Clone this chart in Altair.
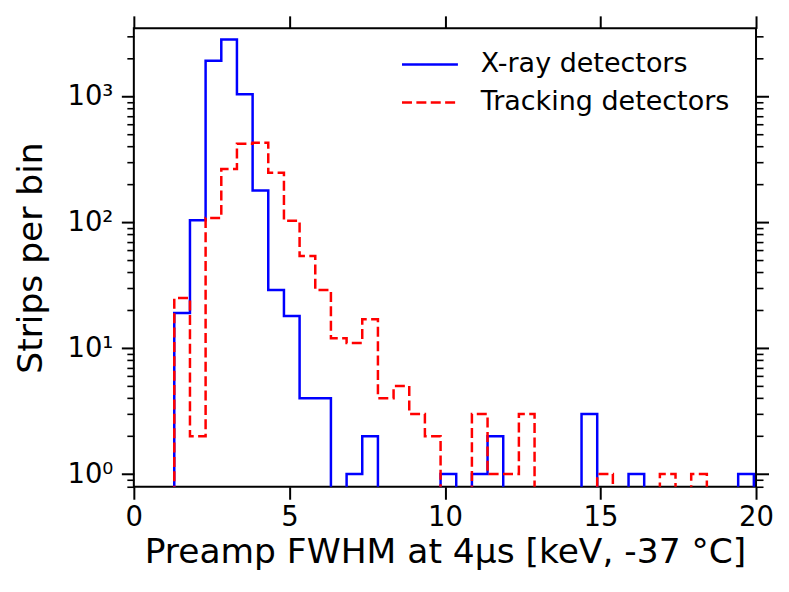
import altair as alt
import pandas as pd

# ---- data ----
bin_edges = [1.300, 1.804, 2.307, 2.811, 3.314, 3.818, 4.321, 4.825, 5.328, 5.832,
             6.335, 6.839, 7.342, 7.846, 8.349, 8.853, 9.356, 9.860, 10.363, 10.867,
             11.370, 11.874, 12.377, 12.881, 13.384, 13.888, 14.391, 14.895, 15.398, 15.902,
             16.405, 16.909, 17.412, 17.916, 18.419, 18.923, 19.426, 19.930]
xray_counts = [19, 104, 1920, 2830, 1040, 179, 29, 18, 4, 4,
               0, 1, 2, 0, 0, 0, 0, 1, 0, 1,
               2, 0, 0, 0, 0, 0, 3, 0, 0, 1,
               0, 0, 0, 0, 0, 0, 1]
tracking_counts = [25, 2, 108, 265, 421, 428, 248, 103, 54, 29,
                   12, 11, 17, 4, 5, 3, 2, 0, 0, 3,
                   1, 1, 3, 0, 0, 0, 0, 1, 0, 0,
                   0, 1, 0, 1, 0, 0, 0]
series_names = ["X-ray detectors", "Tracking detectors"]
series_colors = ["#0000ff", "#ff0000"]
series_dashes = [[1, 0], [10, 4.4]]

x_ticks = [0, 5, 10, 15, 20]
y_ticks = [1, 10, 100, 1000]
y_tick_labels = ["10⁰", "10¹", "10²", "10³"]
y_minor_ticks = [0.8, 0.9, 2, 3, 4, 5, 6, 7, 8, 9, 20, 30, 40, 50, 60, 70, 80, 90,
                 200, 300, 400, 500, 600, 700, 800, 900, 2000, 3000]


def steps(name, counts):
    rows = [{"x": bin_edges[0], "count": 0, "series": name, "order": 0}]
    for i, c in enumerate(counts):
        rows.append({"x": bin_edges[i], "count": c, "series": name, "order": i + 1})
    rows.append({"x": bin_edges[-1], "count": 0, "series": name, "order": len(counts) + 1})
    return rows


xray_df = pd.DataFrame(steps(series_names[0], xray_counts))
track_df = pd.DataFrame(steps(series_names[1], tracking_counts))
minor_df = pd.DataFrame({"v": y_minor_ticks})
major_df = pd.DataFrame({"x": x_ticks, "v": [1, 10, 100, 1000, 1000]})

FONT = "DejaVu Sans"
LW = 2.5
x_scale = alt.Scale(domain=[0, 20], nice=False, zero=False)
y_scale = alt.Scale(type="log", domain=[0.793, 3475], nice=False)

label_expr = " : ".join(f"datum.value == {v} ? '{l}'" for v, l in zip(y_ticks, y_tick_labels)) + " : ''"

legend = alt.Legend(
    title=None, orient="none", legendX=281, legendY=20.7, padding=0,
    symbolType="M-2,0L2,0", symbolSize=784, symbolStrokeWidth=LW,
    labelFontSize=27, labelFont=FONT, labelColor="black", labelOffset=35.3,
    rowPadding=9, labelLimit=400,
)
color_enc = alt.Color("series:N", scale=alt.Scale(domain=series_names, range=series_colors), legend=legend)
dash_enc = alt.StrokeDash("series:N", scale=alt.Scale(domain=series_names, range=series_dashes), legend=legend)

x_axis = alt.Axis(
    values=x_ticks, title="Preamp FWHM at 4μs [keV, -37 °C]", titleFontSize=34.5,
    titleFontWeight="normal", titleBaseline="alphabetic", titleY=75.6,
    labelFontSize=27.5, labelBaseline="alphabetic", labelPadding=26.5, labelFlush=False,
    labelOverlap=False, tickSize=12.5, tickWidth=2, tickColor="black", labelColor="black",
    titleColor="black", labelFont=FONT, titleFont=FONT,
    domain=False, grid=False, format="d",
)
y_axis = alt.Axis(
    values=y_ticks, labelExpr=label_expr, title="Strips per bin", titleFontSize=34.5,
    titleFontWeight="normal", titleAngle=270, titleBaseline="alphabetic", titleX=-92,
    labelFontSize=27.5, labelPadding=8.5, labelOverlap=False, tickSize=12.5, tickWidth=2,
    tickColor="black", labelColor="black", titleColor="black", labelFont=FONT, titleFont=FONT,
    domain=False, grid=False,
)


def hist_layer(df):
    return alt.Chart(df).transform_calculate(
        yv="datum.count > 0 ? datum.count : 0.01"
    ).mark_line(interpolate="step-after", strokeWidth=LW, clip=True).encode(
        x=alt.X("x:Q", scale=x_scale, axis=x_axis),
        y=alt.Y("yv:Q", scale=y_scale, axis=y_axis),
        color=color_enc, strokeDash=dash_enc, order=alt.Order("order:Q"),
    )


data_layer = alt.layer(hist_layer(xray_df), hist_layer(track_df))

top_right = alt.Chart(major_df).mark_point(opacity=0).encode(
    x=alt.X("x:Q", scale=x_scale, axis=alt.Axis(orient="top", values=x_ticks, labels=False,
            tickSize=12.5, tickWidth=2, tickColor="black", domain=False, grid=False, title=None)),
    y=alt.Y("v:Q", scale=y_scale, axis=alt.Axis(orient="right", values=y_ticks, labels=False,
            tickSize=12.5, tickWidth=2, tickColor="black", domain=False, grid=False, title=None)),
)
minor_left = alt.Chart(minor_df).mark_point(opacity=0).encode(
    y=alt.Y("v:Q", scale=y_scale, axis=alt.Axis(orient="left", values=y_minor_ticks, labels=False,
            tickSize=7, tickWidth=1.6, tickColor="black", domain=False, grid=False, title=None)),
)
minor_right = alt.Chart(minor_df).mark_point(opacity=0).encode(
    y=alt.Y("v:Q", scale=y_scale, axis=alt.Axis(orient="right", values=y_minor_ticks, labels=False,
            tickSize=7, tickWidth=1.6, tickColor="black", domain=False, grid=False, title=None)),
)

chart = alt.layer(data_layer, top_right, minor_left, minor_right).resolve_scale(
    x="independent", y="independent"
).properties(
    width=623, height=459,
    autosize=alt.AutoSizeParams(type="none"),
    padding={"left": 126, "top": 20, "right": 25, "bottom": 95},
    background="white",
).configure_view(
    stroke="black", strokeWidth=2
)

chart.save("out.html", embed_options={"renderer": "svg", "actions": False})
